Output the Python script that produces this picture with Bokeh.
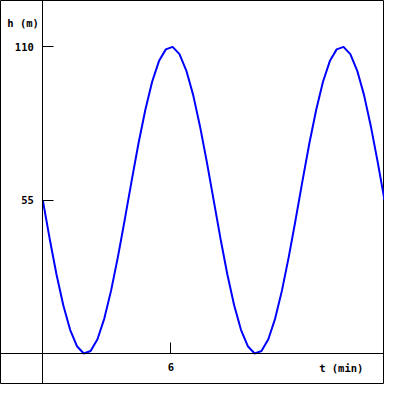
from bokeh.plotting import figure
from bokeh.models import LinearAxis, FixedTicker, Label
from bokeh.embed import file_html
from bokeh.resources import INLINE

# time (min)
t_min = [0.0, 0.32, 0.64, 0.96, 1.28, 1.6, 1.92, 2.24, 2.56, 2.88, 3.2, 3.52, 3.84,
         4.16, 4.48, 4.8, 5.12, 5.44, 5.76, 6.08, 6.4, 6.72, 7.04, 7.36, 7.68, 8.0,
         8.32, 8.64, 8.96, 9.28, 9.6, 9.92, 10.24, 10.56, 10.88, 11.2, 11.52, 11.84,
         12.16, 12.48, 12.8, 13.12, 13.44, 13.76, 14.08, 14.4, 14.72, 15.04, 15.36,
         15.68, 16.0]
# height (m)
h_m = [55.0, 41.3, 28.5, 17.4, 8.6, 2.7, 0.1, 1.0, 5.2, 12.6, 22.7, 34.8, 48.1,
       61.9, 75.3, 87.3, 97.4, 104.8, 109.0, 109.9, 107.3, 101.4, 92.7, 81.5, 68.7,
       55.0, 41.3, 28.5, 17.4, 8.6, 2.7, 0.1, 1.0, 5.2, 12.6, 22.7, 34.8, 48.1,
       61.9, 75.3, 87.3, 97.4, 104.8, 109.0, 109.9, 107.3, 101.4, 92.7, 81.5, 68.7,
       55.0]

x_ticks = [6]
y_ticks = [55, 110]
x_label = "t (min)"
y_label = "h (m)"

FONT = "DejaVu Sans Mono"
FS = "10.5px"

p = figure(width=384, height=384, x_range=(-1.98, 16.0), y_range=(-11.0, 126.5),
           output_backend="svg", toolbar_location=None, min_border=0,
           x_axis_type=None, y_axis_type=None)
p.outline_line_color = "black"
p.outline_line_width = 1
p.background_fill_color = "white"
p.border_fill_color = "white"

xaxis = LinearAxis(fixed_location=0, ticker=FixedTicker(ticks=x_ticks))
yaxis = LinearAxis(fixed_location=0, ticker=FixedTicker(ticks=y_ticks))
for ax in (xaxis, yaxis):
    ax.axis_line_color = "black"
    ax.axis_line_width = 1
    ax.major_tick_in = 11
    ax.major_tick_out = 0
    ax.minor_tick_line_color = None
    ax.major_tick_line_color = "black"
    ax.major_label_text_font = FONT
    ax.major_label_text_font_style = "bold"
    ax.major_label_text_font_size = FS
    ax.major_label_text_color = "black"
    ax.major_label_standoff = 9
p.add_layout(xaxis, "below")
p.add_layout(yaxis, "left")

p.line(t_min, h_m, line_color="#0000ff", line_width=2)

p.add_layout(Label(x=-1.66, y=118.6, text=y_label, text_font=FONT,
                   text_font_style="bold", text_font_size=FS, text_color="black",
                   text_baseline="middle", text_align="left"))
p.add_layout(Label(x=12.94, y=-5.2, text=x_label, text_font=FONT,
                   text_font_style="bold", text_font_size=FS, text_color="black",
                   text_baseline="middle", text_align="left"))

open("out.html", "w").write(file_html(p, INLINE))
